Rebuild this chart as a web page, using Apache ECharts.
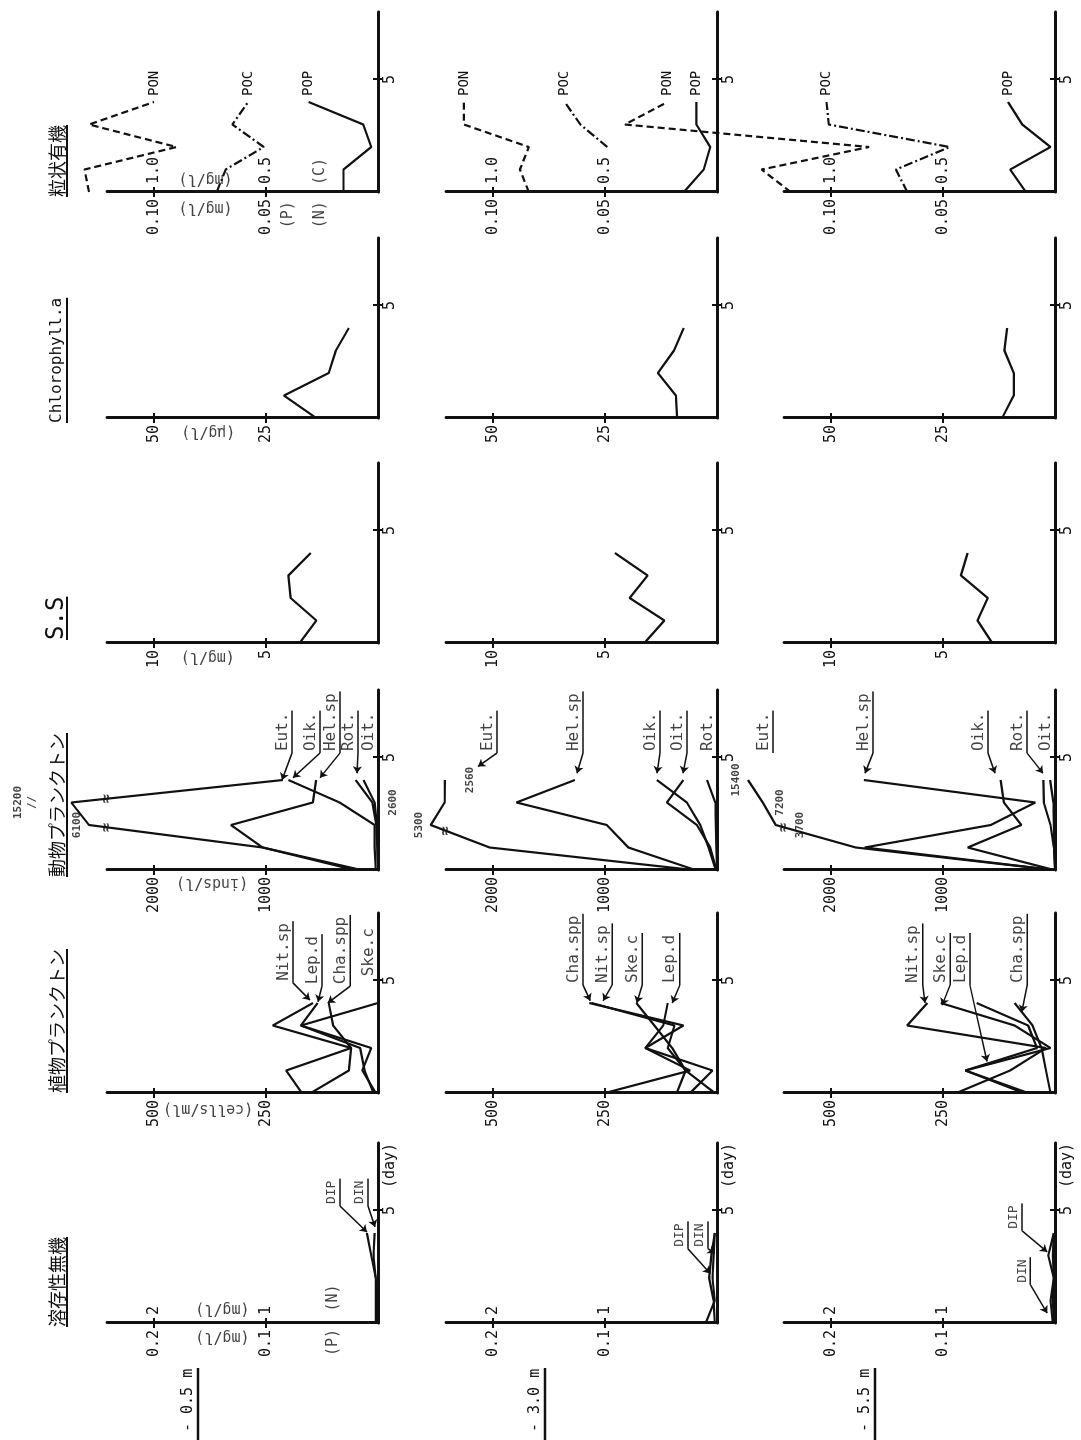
<!DOCTYPE html>
<html>
<head>
<meta charset="utf-8">
<script src="https://cdn.jsdelivr.net/npm/echarts@6.0.0/dist/echarts.min.js"></script>
<style>
  html, body { margin:0; padding:0; background:#fff; width:1081px; height:1440px; overflow:hidden; }
  #wrap { position:absolute; left:0; top:0; width:1440px; height:1081px; transform-origin:0 0;
          transform: translate(0px, 1440px) rotate(-90deg); }
  #chart { width:1440px; height:1081px; }
</style>
</head>
<body>
<div id="wrap"><div id="chart"></div></div>
<script>
// ================= DATA =================
const days = [0, 1, 2, 3, 4];
const depthLabels = ['- 0.5 m', '- 3.0 m', '- 5.5 m'];
const panelTitles = ['溶存性無機', '植物プランクトン', '動物プランクトン', 'S.S', 'Chlorophyll.a', '粒状有機'];

// 溶存性無機  DIN (N, mg/l)  DIP (P, mg/l)
const DIN_05 = [0.02, 0.02, 0.02, 0.04, 0.03];
const DIP_05 = [0.001, 0.001, 0.002, 0.006, 0.010];
const DIN_30 = [0.10, 0.02, 0.04, 0.03, 0.02];
const DIP_30 = [0.002, 0.003, 0.007, 0.005, 0.002];
const DIN_55 = [0.02, 0.04, 0.01, 0.02, 0.01];
const DIP_55 = [0.001, 0.002, 0.001, 0.006, 0.001];

// 植物プランクトン (cells/ml)
const NIT_05 = [170, 205, 60, 235, 145];
const LEP_05 = [5, 35, 15, 172, 135];
const CHA_05 = [150, 65, 60, 100, 110];
const SKE_05 = [10, 30, 40, 172, 0];
const NIT_30 = [90, 70, 110, 95, 280];
const LEP_30 = [60, 10, 160, 120, 110];
const CHA_30 = [250, 60, 160, 75, 285];
const SKE_30 = [5, 70, 100, 140, 180];
const NIT_55 = [220, 100, 20, 330, 285];
const LEP_55 = [70, 200, 40, 60, 175];
const CHA_55 = [10, 20, 30, 50, 90];
const SKE_55 = [60, 200, 10, 90, 255];

// 動物プランクトン (inds/l)
const EUT_05 = [150, 1030, 6100, 15200, 850];
const OIK_05 = [20, 30, 30, 343, 800];
const HEL_05 = [209, 1030, 1313, 582, 552];
const ROT_05 = [0, 5, 15, 50, 200];
const OIT_05 = [0, 5, 10, 30, 130];
const EUT_30 = [210, 2030, 5300, 2600, 2560];
const HEL_30 = [194, 791, 985, 1791, 1269];
const OIK_30 = [10, 75, 150, 269, 537];
const OIT_30 = [5, 60, 180, 448, 300];
const ROT_30 = [0, 5, 10, 15, 90];
const EUT_55 = [15, 1779, 3700, 7200, 15400];
const HEL_55 = [10, 1700, 574, 176, 1706];
const OIK_55 = [10, 779, 300, 456, 485];
const ROT_55 = [0, 10, 40, 100, 103];
const OIT_55 = [0, 5, 10, 15, 44];

// S.S (mg/l)
const SS_05 = [3.5, 2.75, 3.9, 4.0, 3.0];
const SS_30 = [3.24, 2.35, 3.9, 3.1, 4.56];
const SS_55 = [2.8, 3.46, 3.0, 4.2, 3.9];

// Chlorophyll.a (ug/l)
const CHL_05 = [13.8, 21, 11, 9.4, 6.5];
const CHL_30 = [8.9, 9.2, 13.2, 9.6, 7.4];
const CHL_55 = [11.8, 9.2, 9.2, 11.3, 10.7];

// 粒状有機  PON (N), POC (C) mg/l ; POP (P) mg/l
const PON_05 = [1.29, 1.31, 0.90, 1.29, 1.00];
const POC_05 = [0.72, 0.68, 0.51, 0.65, 0.58];
const POP_05 = [0.0154, 0.0154, 0.003, 0.0066, 0.031];
const PON_30 = [0.84, 0.88, 0.84, 1.13, 1.13];
const POC_30 = [null, null, 0.49, 0.61, 0.68];
const POP_30 = [0.0148, 0.0059, 0.003, 0.0092, 0.0092];
const PON_55 = [1.18, 1.31, 0.83, 1.92, 1.73];
const POC_55 = [0.66, 0.71, 0.47, 1.01, 1.02];
const POP_55 = [0.013, 0.020, 0.002, 0.0146, 0.021];

// tick labels (left scale / inner scale)
const tickLeft = [['0.1', '0.2'], ['250', '500'], ['1000', '2000'], ['5', '10'], ['25', '50'], ['0.05', '0.10']];
const tickInner = [['1', '2'], null, null, null, null, ['0.5', '1.0']];

// leader-line labels: [row, col, text, fontSize, labelDay, labelValue, targetDay, targetValue] (values on left scale)
const leaderLabels = [
  [0, 0, 'DIP', 13, 5.2, 0.034, 4.04, 0.0098],
  [0, 0, 'DIN', 13, 5.2, 0.009, 4.27, 0.0027],
  [1, 0, 'DIP', 13, 3.3, 0.026, 2.2, 0.006],
  [1, 0, 'DIN', 13, 3.3, 0.008, 3.1, 0.002],
  [2, 0, 'DIP', 13, 4.1, 0.0295, 3.16, 0.007],
  [2, 0, 'DIN', 13, 1.7, 0.022, 0.44, 0.007],
  [0, 1, 'Nit.sp', 16, 4.9, 190, 4.13, 152],
  [0, 1, 'Lep.d', 16, 4.75, 125, 4.05, 134],
  [0, 1, 'Cha.spp', 16, 4.75, 62, 4.0, 112],
  [0, 1, 'Ske.c', 16, 5.1, 0, null, null],
  [1, 1, 'Cha.spp', 16, 4.8, 299, 4.1, 283],
  [1, 1, 'Nit.sp', 16, 4.8, 234, 4.1, 254],
  [1, 1, 'Ske.c', 16, 4.8, 167, 4.0, 179],
  [1, 1, 'Lep.d', 16, 4.8, 83, 4.0, 100],
  [2, 1, 'Nit.sp', 16, 4.8, 295, 4.0, 290],
  [2, 1, 'Ske.c', 16, 4.8, 234, 3.9, 252],
  [2, 1, 'Lep.d', 16, 4.8, 190, 1.4, 152],
  [2, 1, 'Cha.spp', 16, 4.8, 62, 3.6, 74],
  [0, 2, 'Eut.', 16, 5.2, 768, 4.0, 857],
  [0, 2, 'Oik.', 16, 5.2, 518, 4.1, 759],
  [0, 2, 'Hel.sp', 16, 5.2, 339, 4.1, 518],
  [0, 2, 'Rot.', 16, 5.2, 179, 4.3, 187],
  [0, 2, 'Oit.', 16, 5.2, 0, null, null],
  [1, 2, 'Eut.', 16, 5.2, 1964, 4.6, 2134],
  [1, 2, 'Hel.sp', 16, 5.2, 1196, 4.3, 1250],
  [1, 2, 'Oik.', 16, 5.2, 509, 4.3, 536],
  [1, 2, 'Oit.', 16, 5.2, 268, 4.3, 304],
  [1, 2, 'Rot.', 16, 5.2, 0, null, null],
  [2, 2, 'Eut.', 16, 5.2, 2518, 4.6, 2634],
  [2, 2, 'Hel.sp', 16, 5.2, 1625, 4.3, 1696],
  [2, 2, 'Oik.', 16, 5.2, 598, 4.3, 536],
  [2, 2, 'Rot.', 16, 5.2, 250, 4.3, 107],
  [2, 2, 'Oit.', 16, 5.2, 0, null, null]
];

// placement of the off-scale value labels: [row, dayIndex, position, distance, suffix]
const zooLabelTweaks = [
  [0, 3, 'top', 32, '\n//'],
  [1, 3, 'top', 44, ''],
  [1, 4, 'bottom', 18, ''],
  [2, 2, 'bottom', 17, ''],
  [2, 3, 'bottom', 10, '']
];

// free texts: [row, col, text, day, value(left scale), place, rotate]
const freeTexts = [
  [0, 0, '(mg/l)', -0.62, 0.139, 'inside', 90],
  [0, 0, '(mg/l)', 0.62, 0.139, 'inside', 90],
  [0, 0, '(P)', -0.15, 0.040, 'left', 0],
  [0, 0, '(N)', 0.4, 0.040, 'right', 0],
  [0, 1, '(cells/ml)', -0.7, 379, 'inside', 90],
  [0, 2, '(inds/l)', -0.58, 1482, 'inside', 90],
  [0, 3, '(mg/l)', -0.62, 7.6, 'inside', 90],
  [0, 4, '(μg/l)', -0.62, 37.9, 'inside', 90],
  [0, 5, '(mg/l)', -0.7, 0.077, 'inside', 90],
  [0, 5, '(mg/l)', 0.58, 0.077, 'inside', 90],
  [0, 5, '(P)', -0.3, 0.040, 'left', 0],
  [0, 5, '(N)', -0.3, 0.026, 'left', 0],
  [0, 5, '(C)', 0.2, 0.026, 'right', 0]
];

// ================= LAYOUT / STYLE =================
const FONT = "'DejaVu Sans Mono','Liberation Mono',monospace";
const CJK = "'Noto Sans CJK JP','Noto Sans CJK SC',sans-serif";
const INK = '#111111';
const COL_LEFT = [117, 347, 570, 797, 1022, 1248];
const ROW_AXIS = [378, 717, 1055];
const GW = 180, GH = 271, TICK_PX = 112, DAY_MAX = 8;
const PRI_TICK = [0.1, 250, 1000, 5, 25, 0.05];
const SEC_RATIO = [10, 1, 1, 1, 1, 10];
const ZOO_MAX = 1000 * GH / TICK_PX;        // top of zooplankton axis
const PX_PER_DAY = GW / DAY_MAX;

const gi = (r, c) => r * 6 + c;
const yMax = c => PRI_TICK[c] * GH / TICK_PX;

const grid = [], xAxis = [], yAxis = [], series = [];
const lab = { color: INK, fontFamily: FONT, fontSize: 15 };

for (let r = 0; r < 3; r++) for (let c = 0; c < 6; c++) {
  const g = gi(r, c), t = PRI_TICK[c], k = SEC_RATIO[c];
  grid.push({ left: COL_LEFT[c], top: ROW_AXIS[r] - GH, width: GW, height: GH, outerBoundsMode: 'none' });
  xAxis.push({
    gridIndex: g, type: 'value', position: 'bottom', min: 0, max: DAY_MAX,
    axisLine: { onZero: false, lineStyle: { color: INK, width: 3 } },
    axisTick: { customValues: [5], length: 5, lineStyle: { color: INK, width: 2 } },
    axisLabel: Object.assign({ customValues: c === 0 ? [5, 7] : [5], formatter: v => (v === 5 ? '5' : '(day)'), margin: 5 }, lab),
    splitLine: { show: false }
  });
  xAxis.push({
    gridIndex: g, type: 'value', position: 'bottom', min: 0, max: DAY_MAX,
    axisLine: { show: false, onZero: false },
    axisTick: { customValues: [5], inside: true, length: 5, lineStyle: { color: INK, width: 2 } },
    axisLabel: { show: false }, splitLine: { show: false }
  });
  yAxis.push({
    gridIndex: g, type: 'value', position: 'left', min: 0, max: yMax(c),
    axisLine: { show: true, onZero: false, lineStyle: { color: INK, width: 3 } },
    axisTick: { show: true, customValues: [t, 2 * t], length: 5, lineStyle: { color: INK, width: 2 } },
    axisLabel: Object.assign({ customValues: [t, 2 * t], formatter: (v) => tickLeft[c][Math.abs(v - t) < t * 0.01 ? 0 : 1], margin: 7 }, lab),
    splitLine: { show: false }
  });
  yAxis.push({
    gridIndex: g, type: 'value', position: 'left', min: 0, max: yMax(c) * k,
    axisLine: { show: false, onZero: false },
    axisTick: { show: true, inside: true, customValues: [t * k, 2 * t * k], length: 5, lineStyle: { color: INK, width: 2 } },
    axisLabel: Object.assign({ show: !!tickInner[c], inside: true, customValues: [t * k, 2 * t * k],
      formatter: (v) => tickInner[c] ? tickInner[c][Math.abs(v - t * k) < t * k * 0.01 ? 0 : 1] : '', margin: 8 }, lab),
    splitLine: { show: false }
  });
}

function textSeries(g, items) {
  series.push({
    type: 'scatter', xAxisIndex: 2 * g, yAxisIndex: 2 * g, symbolSize: 1, clip: false, silent: true,
    itemStyle: { color: 'rgba(0,0,0,0)' }, animation: false,
    data: items.map(it => ({ value: it.value, label: Object.assign({ show: true, formatter: it.text,
      position: it.pos || 'inside', rotate: it.rotate || 0, distance: it.dist == null ? 2 : it.dist,
      color: INK, fontFamily: FONT, fontSize: it.fs || 15 }, it.extra || {}) }))
  });
}

function addLine(r, c, name, values, opt) {
  opt = opt || {};
  const g = gi(r, c);
  const s = {
    type: 'line', name, xAxisIndex: 2 * g, yAxisIndex: opt.inner ? 2 * g + 1 : 2 * g,
    data: days.map((d, i) => [d, values[i] == null ? '-' : values[i]]),
    symbol: 'none', clip: false, silent: true, animation: false,
    lineStyle: { color: INK, width: 2.2, type: opt.dash || 'solid' }
  };
  if (opt.endLabel) {
    s.endLabel = { show: true, formatter: opt.endLabel, distance: 6, color: INK, fontFamily: FONT, fontSize: 14 };
  }
  series.push(s);
}

// zooplankton: values above the axis are compressed (broken axis)
const zooDisplay = v => (v <= ZOO_MAX ? v : ZOO_MAX + Math.log10(v / ZOO_MAX) * 400);
function addZoo(r, c, name, values) {
  const g = gi(r, c);
  const disp = values.map(zooDisplay);
  series.push({
    type: 'line', name, xAxisIndex: 2 * g, yAxisIndex: 2 * g,
    data: days.map((d, i) => [d, disp[i]]),
    symbol: 'none', clip: false, silent: true, animation: false,
    lineStyle: { color: INK, width: 2.2 }
  });
  const texts = [];
  values.forEach((v, i) => {
    if (v > ZOO_MAX) {
      const tw = zooLabelTweaks.find(z => z[0] === r && z[1] === i);
      texts.push({ value: [days[i], disp[i]], text: String(v) + (tw ? tw[4] : ''), pos: tw ? tw[2] : 'top',
        dist: tw ? tw[3] : 4, fs: 11, extra: { fontWeight: 'bold', lineHeight: 14 } });
    }
  });
  for (let i = 0; i < days.length - 1; i++) {
    const a = disp[i], b = disp[i + 1];
    if ((a <= ZOO_MAX) !== (b <= ZOO_MAX)) {
      const tt = (ZOO_MAX - a) / (b - a);
      texts.push({ value: [days[i] + tt * (days[i + 1] - days[i]), ZOO_MAX], text: '≈', pos: 'inside', fs: 16, extra: { fontWeight: 'bold' } });
    }
  }
  if (texts.length) textSeries(g, texts);
}

// ---- 溶存性無機
addLine(0, 0, 'DIN', DIN_05, { inner: true }); addLine(0, 0, 'DIP', DIP_05);
addLine(1, 0, 'DIN', DIN_30, { inner: true }); addLine(1, 0, 'DIP', DIP_30);
addLine(2, 0, 'DIN', DIN_55, { inner: true }); addLine(2, 0, 'DIP', DIP_55);
// ---- 植物プランクトン
[[NIT_05, LEP_05, CHA_05, SKE_05], [NIT_30, LEP_30, CHA_30, SKE_30], [NIT_55, LEP_55, CHA_55, SKE_55]]
  .forEach((set, r) => ['Nit.sp', 'Lep.d', 'Cha.spp', 'Ske.c'].forEach((n, j) => addLine(r, 1, n, set[j])));
// ---- 動物プランクトン
[[EUT_05, OIK_05, HEL_05, ROT_05, OIT_05], [EUT_30, OIK_30, HEL_30, ROT_30, OIT_30], [EUT_55, OIK_55, HEL_55, ROT_55, OIT_55]]
  .forEach((set, r) => ['Eut.', 'Oik.', 'Hel.sp', 'Rot.', 'Oit.'].forEach((n, j) => addZoo(r, 2, n, set[j])));
// ---- S.S / Chl
[SS_05, SS_30, SS_55].forEach((a, r) => addLine(r, 3, 'S.S', a));
[CHL_05, CHL_30, CHL_55].forEach((a, r) => addLine(r, 4, 'Chl.a', a));
// ---- 粒状有機
[[PON_05, POC_05, POP_05], [PON_30, POC_30, POP_30], [PON_55, POC_55, POP_55]].forEach((set, r) => {
  addLine(r, 5, 'PON', set[0], { inner: true, dash: [7, 4], endLabel: 'PON' });
  addLine(r, 5, 'POC', set[1], { inner: true, dash: [9, 3, 2, 3], endLabel: 'POC' });
  addLine(r, 5, 'POP', set[2], { endLabel: 'POP' });
});

// ---- leader labels
leaderLabels.forEach(([r, c, text, fs, ld, lv, td, tv]) => {
  const g = gi(r, c);
  const len = (text.length * fs * 0.6 + 4) / PX_PER_DAY;
  const start = [ld, lv], end = [ld + len, lv], mid = [ld + len / 2, lv];
  const s = {
    type: 'line', xAxisIndex: 2 * g, yAxisIndex: 2 * g, data: [start, end],
    symbol: 'none', clip: false, silent: true, animation: false, lineStyle: { color: INK, width: 1.5 }
  };
  if (td != null) {
    s.markLine = { symbol: ['none', 'arrow'], symbolSize: 7, silent: true, animation: false,
      label: { show: false }, lineStyle: { color: INK, width: 1.5, type: 'solid' },
      data: [[{ coord: start }, { coord: [td, tv] }]] };
  }
  series.push(s);
  textSeries(g, [{ value: mid, text, pos: 'top', dist: 1, fs }]);
});

// ---- free texts
freeTexts.forEach(([r, c, text, d, v, place, rot]) => {
  textSeries(gi(r, c), [{ value: [d, v], text, pos: place, rotate: rot, dist: 2, fs: 15 }]);
});

// ---- titles & depth labels (graphic)
const mctx = document.createElement('canvas').getContext('2d');
const textW = (t, f) => { mctx.font = f; return mctx.measureText(t).width; };
const TITLE_LEFT = [113, 347, 563, 800, 1017, 1243];
const TITLE_SIZE = [18, 18, 18, 24, 16, 18];
const graphic = [];
panelTitles.forEach((t, c) => {
  const isCJK = /[^\x00-\x7f]/.test(t);
  const f = TITLE_SIZE[c] + 'px ' + (isCJK ? CJK : FONT);
  const w = textW(t, f);
  graphic.push({ type: 'text', x: TITLE_LEFT[c], y: 57, style: { text: t, font: f, fill: INK, verticalAlign: 'middle', align: 'left' } });
  graphic.push({ type: 'line', shape: { x1: TITLE_LEFT[c], y1: 67, x2: TITLE_LEFT[c] + w, y2: 67 }, style: { stroke: INK, lineWidth: 2 } });
});
const DEPTH_Y = [188, 535, 865];
depthLabels.forEach((t, r) => {
  const f = '15px ' + FONT;
  graphic.push({ type: 'text', x: 8, y: DEPTH_Y[r], style: { text: t, font: f, fill: INK, verticalAlign: 'middle', align: 'left' } });
  graphic.push({ type: 'line', shape: { x1: 0, y1: DEPTH_Y[r] + 10, x2: 72, y2: DEPTH_Y[r] + 10 }, style: { stroke: INK, lineWidth: 2.5 } });
});

const chart = echarts.init(document.getElementById('chart'), null, { renderer: 'canvas', width: 1440, height: 1081 });
chart.setOption({
  animation: false,
  backgroundColor: '#fff',
  grid, xAxis, yAxis, series, graphic
});
</script>
</body>
</html>
